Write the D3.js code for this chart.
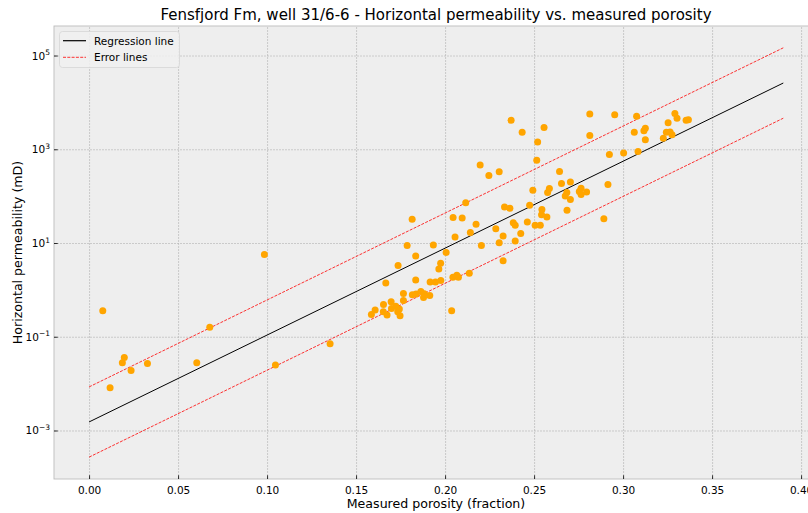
<!DOCTYPE html>
<html>
<head>
<meta charset="utf-8">
<script src="https://cdn.jsdelivr.net/npm/d3@7"></script>
<style>
  body { margin: 0; background: #ffffff; }
  svg { display: block; font-family: "DejaVu Sans", sans-serif; }
</style>
</head>
<body>
<svg></svg>
<script>
// values
let porosity = [
  0.0077, 0.0118, 0.0198, 0.0187, 0.0236, 0.0328, 0.0605, 0.0678, 0.0985, 0.1047,
  0.1354, 0.1586, 0.1607, 0.1654, 0.1653, 0.1674, 0.1697, 0.1699, 0.1723, 0.1734,
  0.1743, 0.1747, 0.1766, 0.1766, 0.1816, 0.1837, 0.1864, 0.1883, 0.1879, 0.1914,
  0.1667, 0.1835, 0.1916, 0.1946, 0.1976, 0.2044, 0.2066, 0.2075, 0.2136, 0.2037,
  0.1736, 0.1975, 0.1965, 0.1835, 0.2006, 0.1787, 0.1934, 0.2056, 0.2142, 0.2204,
  0.2285, 0.2304, 0.2326, 0.2326, 0.2394, 0.2425, 0.1815, 0.2045, 0.2096, 0.2174,
  0.2116, 0.2334, 0.2364, 0.2383, 0.2394, 0.2462, 0.2475, 0.2506, 0.2535, 0.2544,
  0.2542, 0.2572, 0.2493, 0.2576, 0.2586, 0.2515, 0.2197, 0.2246, 0.2304, 0.2643,
  0.2654, 0.2704, 0.2684, 0.2675, 0.2704, 0.2685, 0.2754, 0.2764, 0.2764, 0.2795,
  0.2892, 0.2915, 0.2923, 0.3003, 0.3084, 0.2813, 0.2953, 0.3076, 0.2813, 0.3063,
  0.3117, 0.3125, 0.3125, 0.3226, 0.3243, 0.3264, 0.3275, 0.3253, 0.3291, 0.3303,
  0.3354, 0.3367, 0.2556, 0.2520, 0.2371, 0.2433
];
let permeability = [
  0.36, 0.0082, 0.036, 0.028, 0.019, 0.027, 0.028, 0.16, 5.7, 0.025,
  0.071, 0.30, 0.37, 0.49, 0.34, 0.29, 0.56, 0.40, 0.45, 0.34,
  0.39, 0.28, 0.84, 0.59, 0.79, 0.82, 0.92, 0.83, 0.69, 0.76,
  1.40, 1.62, 1.48, 1.48, 1.59, 1.87, 2.04, 1.85, 2.26, 0.36,
  3.3, 3.7, 2.8, 5.3, 6.3, 8.9, 9.1, 13.4, 16.7, 8.8,
  20.1, 10.1, 14.1, 4.2, 11.0, 15.9, 32, 35, 34, 25,
  72, 59, 55, 27, 24, 28, 64, 24, 24, 52,
  40, 36, 134, 120, 146, 580, 460, 276, 332, 337,
  185, 200, 120, 101, 85, 50, 126, 148, 108, 122,
  33, 177, 775, 834, 898, 5690, 5470, 5040, 1970, 2320,
  2480, 2800, 1590, 1710, 2300, 2330, 2040, 3660, 5830, 4610,
  4180, 4290, 2900, 1430, 4140, 2300
];

// end points of the fitted lines
let lineX = [0, 0.39];
let regressionLine = [0.00152, 25900];
let upperLine = [0.0085, 146000];
let lowerLine = [0.00027, 4600];

let xTicks = [0, 0.05, 0.10, 0.15, 0.20, 0.25, 0.30, 0.35, 0.40];
let yTicks = [1e-3, 1e-1, 1e1, 1e3, 1e5];

let width = 808;
let height = 513;
let plotLeft = 54, plotRight = 818, plotTop = 26, plotBottom = 479;

let svg = d3.select("svg").attr("width", width).attr("height", height);

let xScale = d3.scaleLinear().domain([-0.0197, 0.4095]).range([plotLeft, plotRight]);
let yScale = d3.scaleLog().domain([Math.pow(10, -4.035), Math.pow(10, 5.63)]).range([plotBottom, plotTop]);

// plot background
svg.append("rect")
   .attr("x", plotLeft).attr("y", plotTop)
   .attr("width", plotRight - plotLeft).attr("height", plotBottom - plotTop)
   .attr("fill", "#eeeeee");

// grid
let xGrid = d3.axisBottom(xScale).tickValues(xTicks).tickSize(-(plotBottom - plotTop)).tickFormat("");
let yGrid = d3.axisLeft(yScale).tickValues(yTicks).tickSize(-(plotRight - plotLeft)).tickFormat("");
svg.append("g").attr("class", "grid").attr("transform", "translate(0," + plotBottom + ")").call(xGrid);
svg.append("g").attr("class", "grid").attr("transform", "translate(" + plotLeft + ",0)").call(yGrid);
svg.selectAll(".grid .domain").remove();
svg.selectAll(".grid line")
   .attr("stroke", "#b2b2b2")
   .attr("stroke-width", 0.6)
   .attr("stroke-dasharray", "2,1");

// lines
let lineGen = d3.line().x(d => xScale(d[0])).y(d => yScale(d[1]));
let drawLine = (vals, color, w, dash) => {
  svg.append("path")
     .datum(lineX.map((x, i) => [x, vals[i]]))
     .attr("d", lineGen)
     .attr("fill", "none")
     .attr("stroke", color)
     .attr("stroke-width", w)
     .attr("stroke-dasharray", dash);
};
drawLine(regressionLine, "#000000", 1, null);
drawLine(upperLine, "#ff0000", 0.8, "3,1.3");
drawLine(lowerLine, "#ff0000", 0.8, "3,1.3");

// points
svg.append("g")
   .selectAll("circle")
   .data(porosity)
   .enter()
   .append("circle")
   .attr("cx", d => xScale(d))
   .attr("cy", (d, i) => yScale(permeability[i]))
   .attr("r", 3.5)
   .attr("fill", "#ffa500");

// frame
svg.append("rect")
   .attr("x", plotLeft).attr("y", plotTop)
   .attr("width", plotRight - plotLeft).attr("height", plotBottom - plotTop)
   .attr("fill", "none")
   .attr("stroke", "#bcbcbc")
   .attr("stroke-width", 0.9);

// axes with inward ticks
let xAxis = d3.axisBottom(xScale).tickValues(xTicks).tickFormat(d3.format(".2f"))
              .tickSizeInner(-3.7).tickSizeOuter(0).tickPadding(8);
let gx = svg.append("g").attr("transform", "translate(0," + plotBottom + ")").call(xAxis);
gx.select(".domain").remove();
gx.selectAll("line").attr("stroke", "#000").attr("stroke-width", 0.8);
gx.selectAll("text").attr("font-size", "10.5px").attr("fill", "#000")
  .attr("font-family", "DejaVu Sans");

let yAxis = d3.axisLeft(yScale).tickValues(yTicks).tickFormat("")
              .tickSizeInner(-3.7).tickSizeOuter(0);
let gy = svg.append("g").attr("transform", "translate(" + plotLeft + ",0)").call(yAxis);
gy.select(".domain").remove();
gy.selectAll("line").attr("stroke", "#000").attr("stroke-width", 0.8);

let yLabels = svg.append("g");
yTicks.forEach(t => {
  let txt = yLabels.append("text")
     .attr("x", plotLeft - 4)
     .attr("y", yScale(t) + 4)
     .attr("text-anchor", "end")
     .attr("font-size", "10.5px");
  txt.append("tspan").text("10");
  txt.append("tspan")
     .attr("font-size", "7.5px")
     .attr("dy", -4.5)
     .text(String(Math.round(Math.log10(t))).replace("-", "\u2212"));
});

// title and labels
svg.append("text")
   .attr("x", (plotLeft + plotRight) / 2).attr("y", 20)
   .attr("text-anchor", "middle")
   .attr("font-size", "15px")
   .text("Fensfjord Fm, well 31/6-6 - Horizontal permeability vs. measured porosity");

svg.append("text")
   .attr("x", (plotLeft + plotRight) / 2).attr("y", 508)
   .attr("text-anchor", "middle")
   .attr("font-size", "12.6px")
   .text("Measured porosity (fraction)");

svg.append("text")
   .attr("transform", "translate(22," + ((plotTop + plotBottom) / 2) + ") rotate(-90)")
   .attr("text-anchor", "middle")
   .attr("font-size", "12.6px")
   .text("Horizontal permeability (mD)");

// legend
let legend = svg.append("g");
legend.append("rect")
   .attr("x", 59.5).attr("y", 31.5)
   .attr("width", 120).attr("height", 36)
   .attr("rx", 3)
   .attr("fill", "#f0f0f0")
   .attr("fill-opacity", 0.85)
   .attr("stroke", "#d6d6d6")
   .attr("stroke-width", 0.8);
let legendItems = [
  { label: "Regression line", color: "#000000", w: 1.2, dash: null },
  { label: "Error lines", color: "#ff0000", w: 0.8, dash: "3,1.3" }
];
legendItems.forEach((it, i) => {
  let y = 40.7 + i * 16.6;
  legend.append("line")
     .attr("x1", 63).attr("x2", 86)
     .attr("y1", y).attr("y2", y)
     .attr("stroke", it.color)
     .attr("stroke-width", it.w)
     .attr("stroke-dasharray", it.dash);
  legend.append("text")
     .attr("x", 94).attr("y", y + 3.8)
     .attr("font-size", "10.5px")
     .text(it.label);
});
</script>
</body>
</html>
